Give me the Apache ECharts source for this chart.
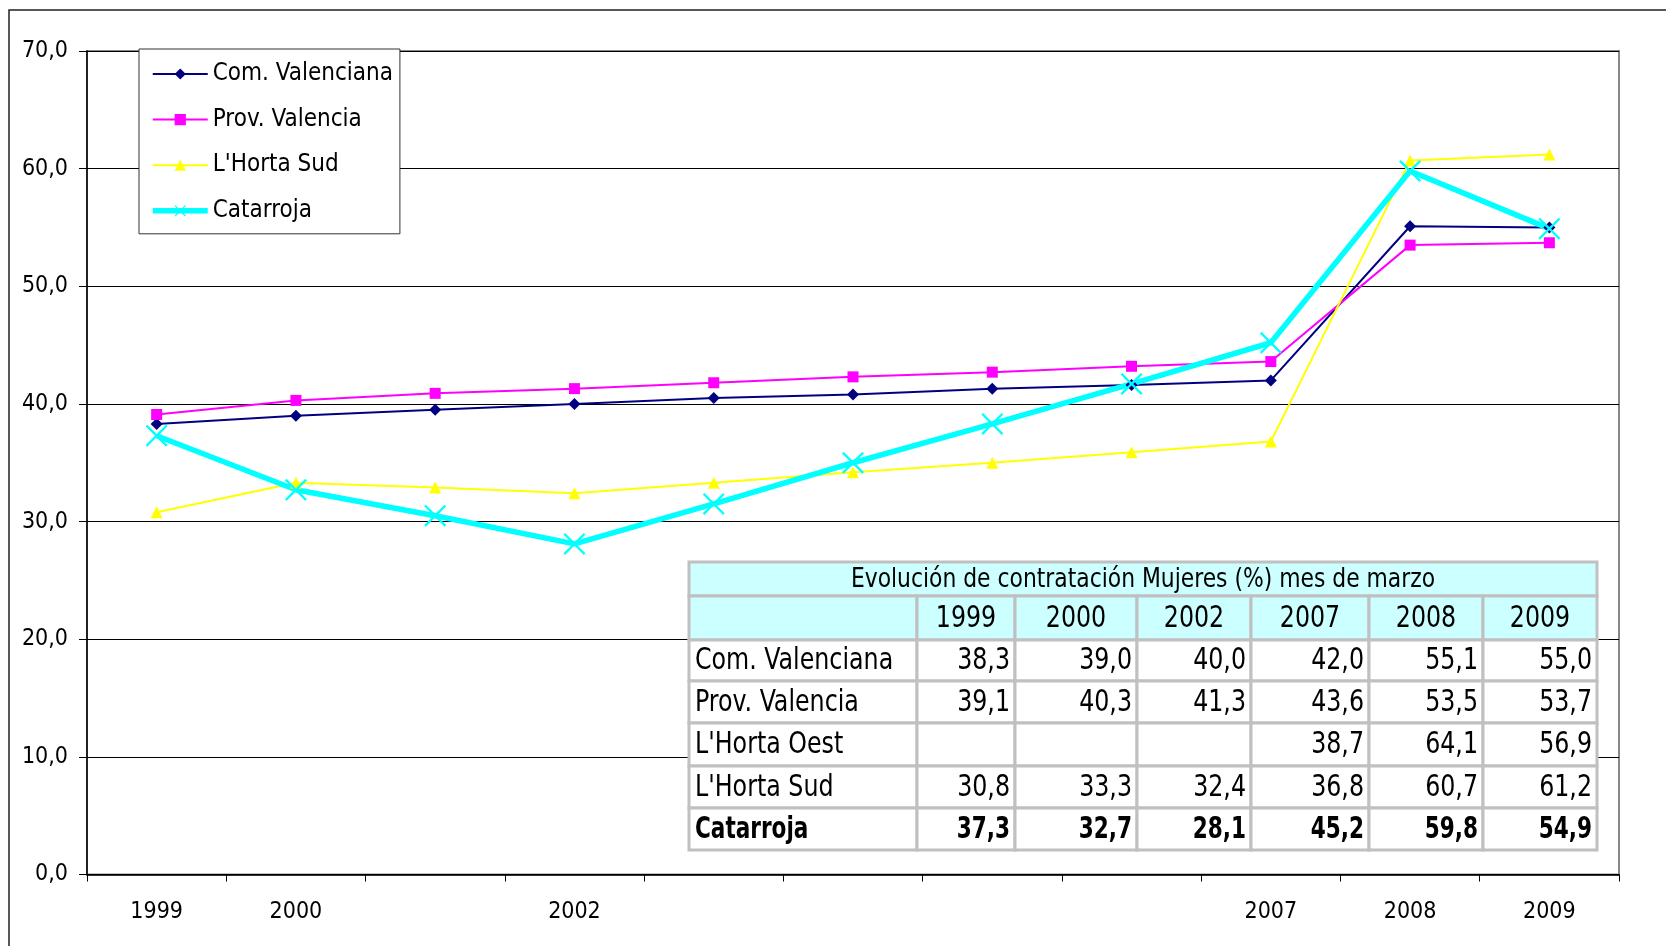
<!DOCTYPE html>
<html>
<head>
<meta charset="utf-8">
<script src="https://cdn.jsdelivr.net/npm/echarts@6/dist/echarts.min.js"></script>
<style>
html,body{margin:0;padding:0;background:#fff;}
#chart{width:1666px;height:946px;}
</style>
</head>
<body>
<div id="chart"></div>
<script>
// ---- data ----
const categories = ['1999', '2000', '', '2002', '', '', '', '', '2007', '2008', '2009'];
const comValenciana = [38.3, 39.0, 39.5, 40.0, 40.5, 40.8, 41.3, 41.6, 42.0, 55.1, 55.0];
const provValencia  = [39.1, 40.3, 40.9, 41.3, 41.8, 42.3, 42.7, 43.2, 43.6, 53.5, 53.7];
const hortaSud      = [30.8, 33.3, 32.9, 32.4, 33.3, 34.2, 35.0, 35.9, 36.8, 60.7, 61.2];
const catarroja     = [37.3, 32.7, 30.5, 28.1, 31.5, 35.0, 38.3, 41.7, 45.2, 59.8, 54.9];

const tableTitle = 'Evolución de contratación Mujeres (%) mes de marzo';
const tableYears = ['1999', '2000', '2002', '2007', '2008', '2009'];
const tableRowNames = ['Com. Valenciana', 'Prov. Valencia', "L'Horta Oest", "L'Horta Sud", 'Catarroja'];
const tableComValenciana = ['38,3', '39,0', '40,0', '42,0', '55,1', '55,0'];
const tableProvValencia  = ['39,1', '40,3', '41,3', '43,6', '53,5', '53,7'];
const tableHortaOest     = ['', '', '', '38,7', '64,1', '56,9'];
const tableHortaSud      = ['30,8', '33,3', '32,4', '36,8', '60,7', '61,2'];
const tableCatarroja     = ['37,3', '32,7', '28,1', '45,2', '59,8', '54,9'];
const tableBoldRow = 'Catarroja';

const yTicks = {min: 0, max: 70, interval: 10};

// ---- styles / layout ----
const FONT = "'Liberation Sans Narrow', 'DejaVu Sans Condensed', 'Liberation Sans', sans-serif";
const colX = [689, 917, 1015, 1137, 1251, 1369, 1483, 1597];
const rowY = [562, 596, 640, 681, 723, 766, 808, 850];
const tableRows = [tableComValenciana, tableProvValencia, tableHortaOest, tableHortaSud, tableCatarroja];

const graphics = [];
// outer border
graphics.push({type: 'rect', z: 0, silent: true,
  shape: {x: 9, y: 10, width: 2000, height: 2000},
  style: {fill: null, stroke: '#222', lineWidth: 1.5}});

const BORDER = '#C0C0C0';
const HEAD = '#CCFFFF';
const TZ = 50;
function cellText(text, x, y, size, align, bold, sx) {
  return {type: 'text', z: TZ + 1, x: x, y: y, scaleX: sx,
    style: {text: text, font: (bold ? 'bold ' : '') + size + 'px ' + FONT, fill: '#000',
      textAlign: align, textVerticalAlign: 'middle'}};
}
// title row
graphics.push({type: 'rect', z: TZ, shape: {x: colX[0], y: rowY[0], width: colX[colX.length-1]-colX[0], height: rowY[1]-rowY[0]},
  style: {fill: HEAD, stroke: BORDER, lineWidth: 3}});
graphics.push(cellText(tableTitle, (colX[0]+colX[colX.length-1])/2, (rowY[0]+rowY[1])/2 + 1, 27, 'center', false, 0.9));
// header row
for (let c = 0; c < colX.length-1; c++) {
  graphics.push({type: 'rect', z: TZ, shape: {x: colX[c], y: rowY[1], width: colX[c+1]-colX[c], height: rowY[2]-rowY[1]},
    style: {fill: HEAD, stroke: BORDER, lineWidth: 3}});
  if (c > 0) {
    graphics.push(cellText(tableYears[c-1], (colX[c]+colX[c+1])/2, (rowY[1]+rowY[2])/2 + 1, 30, 'center', false, 0.88));
  }
}
// data rows
for (let r = 0; r < tableRowNames.length; r++) {
  const y0 = rowY[r+2], y1 = rowY[r+3];
  const bold = tableRowNames[r] === tableBoldRow;
  const sx = bold ? 0.8 : 0.88;
  for (let c = 0; c < colX.length-1; c++) {
    graphics.push({type: 'rect', z: TZ, shape: {x: colX[c], y: y0, width: colX[c+1]-colX[c], height: y1-y0},
      style: {fill: '#fff', stroke: BORDER, lineWidth: 3}});
    if (c === 0) {
      graphics.push(cellText(tableRowNames[r], colX[0] + 6, (y0+y1)/2 + 1, 30, 'left', bold, sx));
    } else {
      graphics.push(cellText(tableRows[r][c-1], colX[c+1] - 5, (y0+y1)/2 + 1, 30, 'right', bold, sx));
    }
  }
}

const xPath = 'path://M0,1.5L1.5,0L10,8.5L18.5,0L20,1.5L11.5,10L20,18.5L18.5,20L10,11.5L1.5,20L0,18.5L8.5,10Z';

const chart = echarts.init(document.getElementById('chart'), null, {renderer: 'canvas'});
chart.setOption({
  animation: false,
  backgroundColor: '#fff',
  grid: {left: 87, right: 47, top: 51, bottom: 71.5, show: true, borderColor: '#888', borderWidth: 2, containLabel: false},
  legend: {
    orient: 'vertical', left: 139, top: 49,
    padding: [12, 7, 10, 11],
    backgroundColor: '#fff', borderColor: '#333', borderWidth: 1,
    itemWidth: 55, itemHeight: 14, itemGap: 19.6,
    textStyle: {fontFamily: FONT, fontSize: 24, lineHeight: 26, color: '#000'},
    data: ['Com. Valenciana', 'Prov. Valencia', "L'Horta Sud",
      {name: 'Catarroja', lineStyle: {width: 5.5}}]
  },
  xAxis: {
    type: 'category', data: categories, boundaryGap: true,
    axisLine: {lineStyle: {color: '#000', width: 1.5}},
    axisTick: {show: true, interval: 0, length: 7, lineStyle: {color: '#000'}},
    axisLabel: {interval: 0, margin: 26, fontFamily: FONT, fontSize: 23, color: '#000'},
    splitLine: {show: false}
  },
  yAxis: {
    type: 'value', min: yTicks.min, max: yTicks.max, interval: yTicks.interval,
    axisLine: {show: true, lineStyle: {color: '#000', width: 1.5}},
    axisTick: {show: true, length: 8, lineStyle: {color: '#000'}},
    axisLabel: {margin: 19, fontFamily: FONT, fontSize: 23, color: '#000',
      formatter: v => v.toFixed(1).replace('.', ',')},
    splitLine: {show: true, lineStyle: {color: '#000', width: 1}}
  },
  series: [
    {name: 'Com. Valenciana', type: 'line', data: comValenciana, symbol: 'diamond', symbolSize: 12,
      lineStyle: {color: '#000080', width: 2}, itemStyle: {color: '#000080'}},
    {name: 'Prov. Valencia', type: 'line', data: provValencia, symbol: 'rect', symbolSize: 11,
      lineStyle: {color: '#FF00FF', width: 2}, itemStyle: {color: '#FF00FF'}},
    {name: "L'Horta Sud", type: 'line', data: hortaSud, symbol: 'triangle', symbolSize: 12,
      lineStyle: {color: '#FFFF00', width: 2}, itemStyle: {color: '#FFFF00'}},
    {name: 'Catarroja', type: 'line', data: catarroja, symbol: xPath, symbolSize: 22,
      lineStyle: {color: '#00FFFF', width: 5.5}, itemStyle: {color: '#00FFFF'}}
  ],
  graphic: graphics
});
</script>
</body>
</html>
